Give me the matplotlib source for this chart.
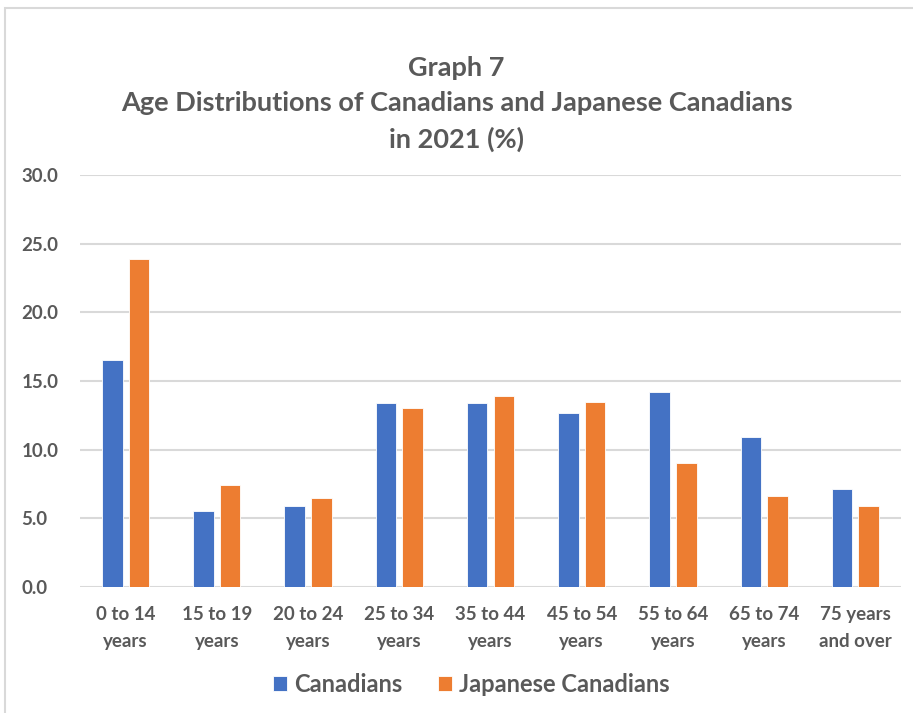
import numpy as np
import matplotlib.pyplot as plt
from matplotlib.patches import Rectangle

categories = ['0 to 14\nyears', '15 to 19\nyears', '20 to 24\nyears', '25 to 34\nyears',
              '35 to 44\nyears', '45 to 54\nyears', '55 to 64\nyears', '65 to 74\nyears',
              '75 years\nand over']
canadians = [16.5, 5.5, 5.9, 13.4, 13.4, 12.7, 14.2, 10.9, 7.1]
japanese = [23.9, 7.4, 6.5, 13.0, 13.9, 13.5, 9.0, 6.6, 5.9]

text_color = '#595959'
plt.rcParams['font.family'] = ['Lato', 'DejaVu Sans']

fig = plt.figure(figsize=(9.13, 7.13), dpi=100)
fig.patches.append(Rectangle((5 / 913, -0.05), 1.1, (713 - 8) / 713 + 0.05,
                             transform=fig.transFigure, fill=False,
                             edgecolor='#D9D9D9', linewidth=1.5))
ax = fig.add_axes([80 / 913, 126 / 713, 821 / 913, 412 / 713])

x = np.arange(len(categories))
w = 0.225
off = 0.146
ax.bar(x - off, canadians, w, color='#4472C4', edgecolor='white', linewidth=0.6,
       label='Canadians', zorder=3)
ax.bar(x + off, japanese, w, color='#ED7D31', edgecolor='white', linewidth=0.6,
       label='Japanese Canadians', zorder=3)

ax.set_xlim(-0.5, len(categories) - 0.5)
ax.set_ylim(0, 30)
ax.set_yticks(np.arange(0, 30.1, 5))
ax.set_yticklabels([f'{v:.1f}' for v in np.arange(0, 30.1, 5)])
ax.set_xticks(x)
ax.set_xticklabels(categories, linespacing=1.65)
ax.grid(axis='y', color='#D9D9D9', linewidth=1.5, zorder=0)
for s in ax.spines.values():
    s.set_visible(False)
ax.tick_params(length=0, labelcolor=text_color, labelsize=13.5)
ax.tick_params(axis='y', pad=42)
ax.tick_params(axis='x', pad=14)
for lab in ax.get_xticklabels() + ax.get_yticklabels():
    lab.set_fontweight('bold')
for lab in ax.get_yticklabels():
    lab.set_horizontalalignment('left')

fig.text(0.5, 1 - 104 / 713, 'Graph 7\nAge Distributions of Canadians and Japanese Canadians\nin 2021 (%)',
         ha='center', va='center', fontsize=19.5, fontweight='bold', color=text_color,
         linespacing=1.55)

leg = fig.legend(loc='center', bbox_to_anchor=(471 / 913, 1 - 684 / 713), ncol=2,
                 frameon=False, fontsize=17, handlelength=0.6, handleheight=0.6,
                 handletextpad=0.3, columnspacing=1.5)
for t in leg.get_texts():
    t.set_color(text_color)
    t.set_fontweight('bold')

fig.savefig('out.png', dpi=100)
